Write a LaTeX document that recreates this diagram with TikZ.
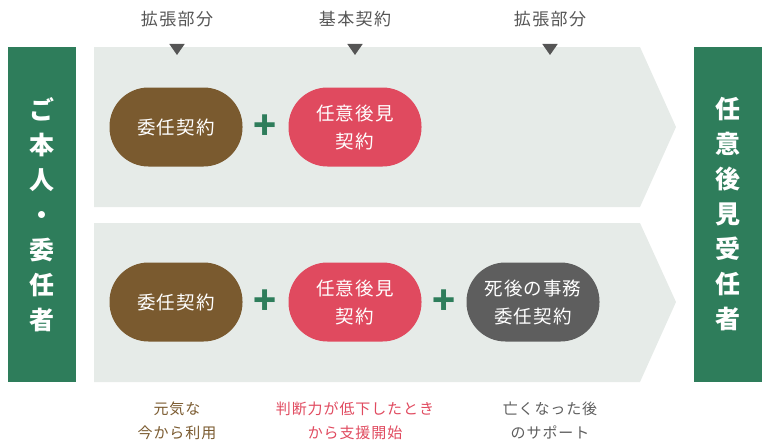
\documentclass[tikz,border=0pt]{standalone}
\usepackage{fontspec}
\usetikzlibrary{shapes.geometric}
\setmainfont{Noto Sans CJK JP}
\begin{document}
\begin{tikzpicture}[x=1pt,y=-1pt]
\definecolor{grn}{HTML}{2E7D5B}
\definecolor{band}{HTML}{E6EBE8}
\definecolor{brn}{HTML}{7A5A2F}
\definecolor{rd}{HTML}{E04A5F}
\definecolor{gy}{HTML}{5E5E5E}
\definecolor{lbl}{HTML}{555555}
\tikzset{
 pill/.style={rounded corners=39pt,minimum width=133pt,minimum height=79pt,text=white,font=\fontsize{18.5}{28}\selectfont\addfontfeature{LetterSpace=6},align=center,inner sep=0pt},
 side/.style={fill=grn,text=white,minimum width=68pt,minimum height=335pt,font=\fontsize{25}{35}\selectfont\bfseries,align=center,inner sep=0pt},
 top/.style={text=lbl,font=\fontsize{17}{20}\selectfont\addfontfeature{LetterSpace=8}},
 tri/.style={fill=lbl,isosceles triangle,shape border rotate=-90,isosceles triangle apex angle=70,minimum height=11pt,minimum width=1pt,inner sep=0pt},
 plus/.style={text=grn,font=\fontsize{38}{38}\selectfont\bfseries,inner sep=0pt},
 bot/.style={font=\fontsize{15}{24}\selectfont\addfontfeature{LetterSpace=6},align=center}
}
\useasboundingbox (0,0) rectangle (768,447);
\fill[band] (94,47) -- (640,47) -- (676,127) -- (640,207) -- (94,207) -- cycle;
\fill[band] (94,223) -- (640,223) -- (676,302) -- (640,382) -- (94,382) -- cycle;
\node[side] (L) at (42,214.5) {ご\\本\\人\\・\\委\\任\\者};
\node[side] (R) at (727.5,214.5) {任\\意\\後\\見\\受\\任\\者};
\node[top] (t1) at (177,19) {拡張部分};
\node[top] (t2) at (355,19) {基本契約};
\node[top] (t3) at (550,19) {拡張部分};
\node[tri] (v1) at (177,48) {};
\node[tri] (v2) at (355,48) {};
\node[tri] (v3) at (550,48) {};
\node[pill,fill=brn] (a1) at (176,127) {委任契約};
\node[plus] (p1) at (265,127) {+};
\node[pill,fill=rd] (b1) at (355,127) {任意後見\\契約};
\node[pill,fill=brn] (a2) at (176,302) {委任契約};
\node[plus] (p2) at (265,302) {+};
\node[pill,fill=rd] (b2) at (355,302) {任意後見\\契約};
\node[plus] (p3) at (444,302) {+};
\node[pill,fill=gy] (c2) at (533,302) {死後の事務\\委任契約};
\node[bot,text=brn] (d1) at (177,421) {元気な\\今から利用};
\node[bot,text=rd] (d2) at (355,421) {判断力が低下したとき\\から支援開始};
\node[bot,text=gy] (d3) at (550,421) {亡くなった後\\のサポート};
\end{tikzpicture}
\end{document}
